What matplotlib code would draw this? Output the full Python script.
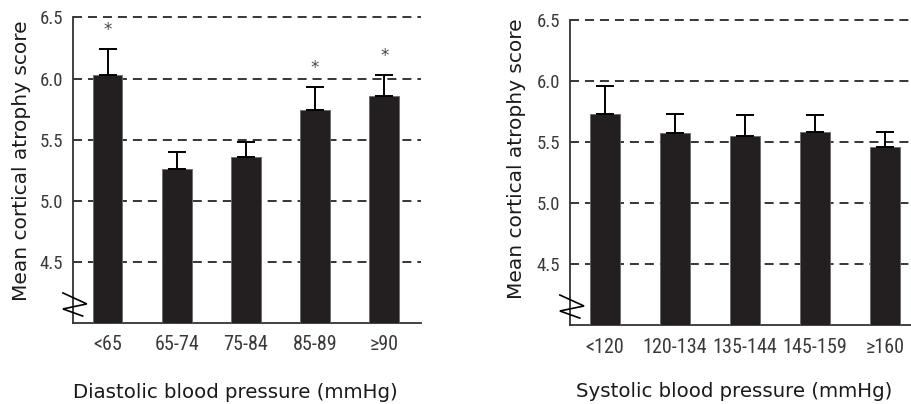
import matplotlib
matplotlib.use("Agg")
import matplotlib.pyplot as plt
from matplotlib import font_manager

# Mean cortical atrophy score by blood-pressure category
dia_labels = ["<65", "65-74", "75-84", "85-89", "\u226590"]
dia_means = [6.03, 5.26, 5.36, 5.74, 5.86]
dia_err = [0.21, 0.14, 0.12, 0.19, 0.17]
dia_signif = [True, False, False, True, True]

sys_labels = ["<120", "120-134", "135-144", "145-159", "\u2265160"]
sys_means = [5.73, 5.57, 5.55, 5.58, 5.46]
sys_err = [0.23, 0.16, 0.17, 0.14, 0.12]
sys_signif = [False, False, False, False, False]

y_ticks = [4.5, 5.0, 5.5, 6.0, 6.5]
y_min, y_max = 4.0, 6.5

installed = {f.name for f in font_manager.fontManager.ttflist}
narrow = [f for f in ["Liberation Sans Narrow", "Roboto Condensed"] if f in installed]
tick_family = narrow + ["DejaVu Sans"]
tick_stretch = "normal" if narrow else "condensed"

BAR = "#231f20"
AXIS = "#333333"

fig = plt.figure(figsize=(9.12, 4.04), dpi=100)


def panel(rect, labels, means, errs, signif, xlabel, xmax, xlab_pos, ylab_pos):
    ax = fig.add_axes(rect)
    x = list(range(len(means)))
    ax.bar(x, means, width=0.43, bottom=0, color=BAR, edgecolor="#6a6a6a",
           linewidth=0.6, zorder=3)
    ax.errorbar(x, means, yerr=[[0] * len(errs), errs], fmt="none",
                ecolor="black", elinewidth=1.4, capsize=6.5, capthick=1.4,
                zorder=4)
    for xi, m, e, s in zip(x, means, errs, signif):
        if s:
            ax.text(xi, m + e + 0.155, "*", ha="center", va="center",
                    fontsize=12, color="#444444", zorder=5)
    ax.set_ylim(y_min, y_max)
    ax.set_xlim(-0.5, xmax)
    ax.set_yticks(y_ticks)
    ax.set_yticklabels([f"{v:.1f}" for v in y_ticks])
    ax.set_xticks(x)
    ax.set_xticklabels(labels)
    for t in ax.get_xticklabels():
        t.set_family(tick_family)
        t.set_stretch(tick_stretch)
        t.set_fontsize(14.5)
        t.set_color("#3a3a3a")
    for t in ax.get_yticklabels():
        t.set_family(tick_family)
        t.set_stretch(tick_stretch)
        t.set_fontsize(13.5)
        t.set_color("#3a3a3a")
    ax.tick_params(axis="both", length=0)
    ax.tick_params(axis="y", pad=7)
    ax.tick_params(axis="x", pad=9)
    for v in y_ticks:
        ax.axhline(v, color="black", linestyle=(0, (5.9, 3.9)), linewidth=1.1,
                   zorder=1, clip_on=False)
    for side in ("top", "right"):
        ax.spines[side].set_visible(False)
    for side in ("left", "bottom"):
        ax.spines[side].set_color(AXIS)
        ax.spines[side].set_linewidth(1.3)
    ax.set_ylabel("Mean cortical atrophy score", fontsize=14.5,
                  family="DejaVu Sans", color="#1a1a1a")
    ax.yaxis.set_label_coords(*ylab_pos)
    ax.set_xlabel(xlabel, fontsize=14.2, family="DejaVu Sans", color="#1a1a1a")
    ax.xaxis.set_label_coords(*xlab_pos)
    # axis-break zigzag on the truncated y axis
    ax.plot([-0.645, -0.30, -0.645, -0.36], [4.246, 4.156, 4.115, 4.057],
            color="black", linewidth=1.2, clip_on=False, zorder=6,
            solid_joinstyle="miter")
    ax.set_facecolor("none")
    return ax


panel([0.080, 0.2005, 0.3816, 0.7562], dia_labels, dia_means, dia_err,
      dia_signif, "Diastolic blood pressure (mmHg)", 4.53,
      (0.466, -0.195), (-0.121, 0.53))
panel([0.625, 0.1955, 0.3838, 0.7550], sys_labels, sys_means, sys_err,
      sys_signif, "Systolic blood pressure (mmHg)", 4.5,
      (0.469, -0.187), (-0.126, 0.546))

fig.savefig("out.png", dpi=100)
